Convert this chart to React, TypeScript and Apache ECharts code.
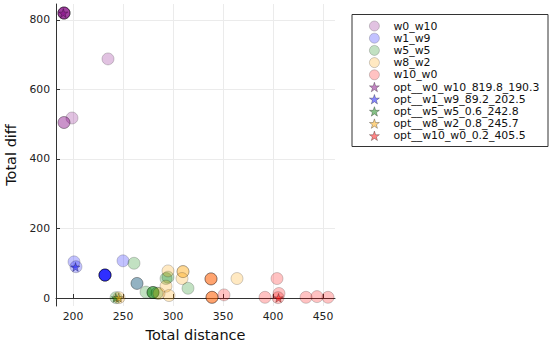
import React, { useEffect, useRef } from "react";
import * as echarts from "echarts";

const seriesNames = ["w0_w10", "w1_w9", "w5_w5", "w8_w2", "w10_w0"];
const seriesColors = [[128, 0, 128], [0, 0, 255], [0, 128, 0], [255, 165, 0], [255, 0, 0]];

const w0_w10_dist = [191, 191, 191, 191, 191, 235, 199, 191, 191];
const w0_w10_diff = [820, 820, 820, 820, 820, 688, 518, 505, 505];

const w1_w9_dist = [201, 203, 250, 232, 232, 232, 232, 232, 232, 264];
const w1_w9_diff = [104, 90, 107, 66, 66, 66, 66, 66, 66, 42];

const w5_w5_dist = [261, 264, 273, 280, 280, 280, 284, 293, 295, 315, 243];
const w5_w5_diff = [100, 42, 17, 16, 16, 16, 14, 56, 60, 28, 1];

const w8_w2_dist = [295, 293, 296, 286, 310, 310, 309, 364, 338, 338, 339, 339, 246];
const w8_w2_diff = [78, 34, 7, 13, 76, 76, 56, 56, 55, 55, 2, 2, 1];

const w10_w0_dist = [338, 339, 351, 392, 404, 406, 405, 433, 444, 455];
const w10_w0_diff = [55, 2, 9, 2, 56, 13, 1, 2, 4, 2];

const seriesDist = [w0_w10_dist, w1_w9_dist, w5_w5_dist, w8_w2_dist, w10_w0_dist];
const seriesDiff = [w0_w10_diff, w1_w9_diff, w5_w5_diff, w8_w2_diff, w10_w0_diff];

const optNames = [
  "opt__w0_w10_819.8_190.3",
  "opt__w1_w9_89.2_202.5",
  "opt__w5_w5_0.6_242.8",
  "opt__w8_w2_0.8_245.7",
  "opt__w10_w0_0.2_405.5",
];
const optDist = [190.3, 202.5, 242.8, 245.7, 405.5];
const optDiff = [819.8, 89.2, 0.6, 0.8, 0.2];

const xTicks = [200, 250, 300, 350, 400, 450];
const yTicks = [0, 200, 400, 600, 800];

const STAR =
  "path://M50,0 L61.8,35.4 L97.6,34.5 L69,56.7 L79.4,90.5 L50,70 L20.6,90.5 L31,56.7 L2.4,34.5 L38.2,35.4 Z";

const rgba = (c: number[], a: number) => `rgba(${c[0]},${c[1]},${c[2]},${a})`;
const FONT = "DejaVu Sans";

export default function App() {
  const ref = useRef<HTMLDivElement>(null);
  useEffect(() => {
    if (!ref.current) return;
    const chart = echarts.init(ref.current, undefined, { renderer: "svg" });
    const series: any[] = [];
    seriesNames.forEach((name, i) => {
      series.push({
        name,
        type: "scatter",
        symbol: "circle",
        symbolSize: 12,
        data: seriesDist[i].map((d, k) => [d, seriesDiff[i][k]]),
        itemStyle: { color: rgba(seriesColors[i], 0.3), borderColor: "rgba(0,0,0,0.3)", borderWidth: 0.8 },
        emphasis: { disabled: true },
        silent: true,
      });
    });
    optNames.forEach((name, i) => {
      series.push({
        name,
        type: "scatter",
        symbol: STAR,
        symbolSize: 9,
        data: [[optDist[i], optDiff[i]]],
        itemStyle: { color: rgba(seriesColors[i], 0.6), borderColor: "rgba(0,0,0,0.6)", borderWidth: 0.6 },
        emphasis: { disabled: true },
        silent: true,
        z: 3,
      });
    });
    const legendData = [
      ...seriesNames.map((name, i) => ({
        name,
        icon: "circle",
        itemStyle: { color: rgba(seriesColors[i], 0.3), borderColor: "rgba(0,0,0,0.3)", borderWidth: 0.8 },
      })),
      ...optNames.map((name, i) => ({
        name,
        icon: STAR,
        itemStyle: { color: rgba(seriesColors[i], 0.6), borderColor: "rgba(0,0,0,0.6)", borderWidth: 0.6 },
      })),
    ];
    const axisCommon = {
      type: "value",
      axisLine: { show: true, lineStyle: { color: "#333", width: 1 } },
      axisTick: { show: true, inside: true, length: 4, lineStyle: { color: "#333" } },
      splitLine: { show: true, lineStyle: { color: "#ebebeb", width: 1 } },
      axisLabel: { color: "#222", fontSize: 10.8, fontFamily: FONT },
      nameTextStyle: { color: "#111", fontSize: 14.5, fontFamily: FONT },
      nameLocation: "middle",
    };
    chart.setOption({
      animation: false,
      backgroundColor: "#fff",
      grid: { left: 56, top: 4, right: 215, bottom: 40, containLabel: false, outerBoundsMode: "none" },
      xAxis: {
        ...axisCommon,
        min: 183,
        max: 462,
        name: "Total distance",
        nameGap: 21,
        axisTick: { ...axisCommon.axisTick, customValues: xTicks },
        axisLabel: { ...axisCommon.axisLabel, customValues: xTicks, margin: 5 },
      },
      yAxis: {
        ...axisCommon,
        min: -23,
        max: 846,
        name: "Total diff",
        nameGap: 36,
        axisTick: { ...axisCommon.axisTick, customValues: yTicks },
        axisLabel: { ...axisCommon.axisLabel, customValues: yTicks, margin: 6 },
      },
      legend: {
        orient: "vertical",
        left: 369,
        top: 20,
        itemWidth: 10,
        itemHeight: 10,
        itemGap: 0.2,
        padding: 0,
        selectedMode: false,
        data: legendData,
        textStyle: { color: "#111", fontSize: 10.9, fontFamily: FONT, lineHeight: 12, padding: [0, 0, 0, 9] },
      },
      graphic: [
        {
          type: "rect",
          shape: { x: 352, y: 14.5, width: 196, height: 132 },
          style: { fill: "none", stroke: "#333", lineWidth: 1 },
          silent: true,
        },
      ],
      series,
    });
    return () => chart.dispose();
  }, []);
  return <div ref={ref} style={{ position: "fixed", left: 0, top: 0, width: 550, height: 346 }} />;
}
